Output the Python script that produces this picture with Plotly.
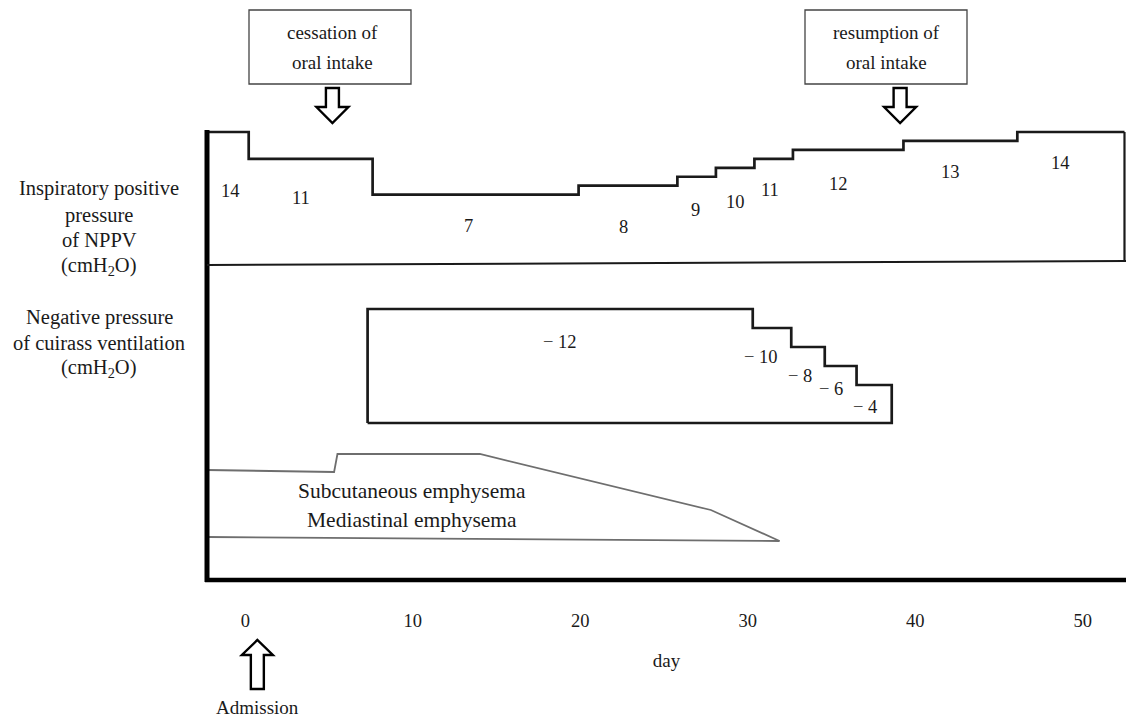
import plotly.graph_objects as go

W, H = 1126, 719

# ---------------- data ----------------
day_ticks = [0, 10, 20, 30, 40, 50]
day_tick_text = ["0", "10", "20", "30", "40", "50"]

# NPPV inspiratory positive pressure (cmH2O): level i holds from nppv_days[i] to nppv_days[i+1]
nppv_days = [-2.3, 0.2, 7.6, 19.9, 25.8, 28.1, 30.4, 32.7, 39.3, 46.1, 52.5]
nppv_levels = [14, 11, 7, 8, 9, 10, 11, 12, 13, 14]

# Cuirass negative pressure (cmH2O)
cuirass_days = [7.3, 30.3, 32.6, 34.6, 36.5, 38.6]
cuirass_levels = [-12, -10, -8, -6, -4]

# Emphysema course (qualitative band outline)
subcut_days = [-2.3, 5.3, 5.5, 14.0, 27.8, 31.9]
subcut_extent = [470, 472, 454, 454, 510, 541]
mediast_days = [-2.3, 31.9]
mediast_extent = [537, 541]

admission_day = 0
oral_stop_day = 5.2
oral_resume_day = 39.1

# ---------------- label placement ----------------
nppv_label_days = [-0.9, 3.3, 13.3, 22.6, 26.9, 29.3, 31.35, 35.4, 42.1, 48.65]
nppv_label_py = [191, 198, 226, 227, 210, 202, 190, 184, 172, 163]
cuirass_label_days = [18.8, 30.8, 33.1, 35.0, 37.0]
cuirass_label_py = [342, 357, 376, 389, 407]

FONT = "Liberation Serif"
INK = "#1a1a1a"

PLOT_L, PLOT_B = 207, 580
XR = [-2.29, 52.59]


def px(x):
    return x / W


def py(y):
    return 1 - y / H


def day_to_px(d):
    # only used to anchor decorative arrows on the data axis
    return PLOT_L + (d - XR[0]) / (XR[1] - XR[0]) * (W - PLOT_L)


fig = go.Figure()

# NPPV step outline
fig.add_trace(go.Scatter(
    x=nppv_days, y=nppv_levels + [nppv_levels[-1]], mode="lines",
    line=dict(color=INK, width=2.7, shape="hv"), yaxis="y2",
    hoverinfo="skip", showlegend=False))

# Cuirass closed outline (baseline 0)
cx = [cuirass_days[0]] + cuirass_days[:-1] + [cuirass_days[-1], cuirass_days[-1], cuirass_days[0]]
cy = [0] + cuirass_levels + [cuirass_levels[-1], 0, 0]
fig.add_trace(go.Scatter(
    x=cx, y=cy, mode="lines", line=dict(color=INK, width=2.7, shape="hv"),
    yaxis="y3", hoverinfo="skip", showlegend=False))

# Emphysema lines
fig.add_trace(go.Scatter(
    x=subcut_days, y=subcut_extent, mode="lines",
    line=dict(color="#6e6e6e", width=1.8), yaxis="y",
    hoverinfo="skip", showlegend=False))
fig.add_trace(go.Scatter(
    x=mediast_days, y=mediast_extent, mode="lines",
    line=dict(color="#6e6e6e", width=1.8), yaxis="y",
    hoverinfo="skip", showlegend=False))

shapes = []
# thick left axis and bottom axis
shapes.append(dict(type="line", xref="paper", yref="paper",
                   x0=px(PLOT_L), x1=px(PLOT_L), y0=py(130), y1=py(582),
                   line=dict(color="black", width=5)))
shapes.append(dict(type="line", xref="paper", yref="paper",
                   x0=px(PLOT_L - 2), x1=1, y0=py(580), y1=py(580),
                   line=dict(color="black", width=4.5)))
# NPPV panel bottom separator
shapes.append(dict(type="line", xref="paper", yref="paper",
                   x0=px(PLOT_L), x1=1, y0=py(265), y1=py(261),
                   line=dict(color=INK, width=2)))
# NPPV right edge
shapes.append(dict(type="line", xref="x", yref="y",
                   x0=nppv_days[-1], x1=nppv_days[-1], y0=132, y1=262,
                   line=dict(color=INK, width=2.2)))

# annotation boxes at top
for x0b, x1b in [(249, 411), (805, 967)]:
    shapes.append(dict(type="rect", xref="paper", yref="paper",
                       x0=px(x0b), x1=px(x1b), y0=py(10), y1=py(84),
                       line=dict(color="#444", width=1.3), fillcolor="white"))


def block_arrow(cxp, top, shoulder, tip, sh, hh):
    pts = [(cxp - sh, top), (cxp + sh, top), (cxp + sh, shoulder), (cxp + hh, shoulder),
           (cxp, tip), (cxp - hh, shoulder), (cxp - sh, shoulder)]
    return "M " + " L ".join(f"{px(a):.5f},{py(b):.5f}" for a, b in pts) + " Z"


for d in [oral_stop_day, oral_resume_day]:
    shapes.append(dict(type="path", xref="paper", yref="paper",
                       path=block_arrow(day_to_px(d), 88, 107, 123, 6.5, 16),
                       line=dict(color="black", width=2.4), fillcolor="white"))
# Admission up arrow
shapes.append(dict(type="path", xref="paper", yref="paper",
                   path=block_arrow(day_to_px(admission_day) + 12, 689, 655, 640, 6.5, 15.5),
                   line=dict(color="black", width=2.4), fillcolor="white"))

ann = []


def text(xp, yp, s, size=19):
    ann.append(dict(x=px(xp), y=py(yp), xref="paper", yref="paper", text=s,
                    showarrow=False, xanchor="center", yanchor="middle",
                    font=dict(family=FONT, size=size, color=INK)))


# box texts
text(333, 32, "cessation of", 19)
text(333, 63, "oral intake", 19)
text(886, 32, "resumption of", 19)
text(886, 63, "oral intake", 19)

# left labels
for yy, s in [(189, "Inspiratory positive"), (215, "pressure"), (240, "of NPPV"),
              (266, "(cmH<sub>2</sub>O)"), (317, "Negative pressure"),
              (343, "of cuirass ventilation"), (368, "(cmH<sub>2</sub>O)")]:
    text(99, yy, s, 20.5)

# emphysema labels
text(412, 491, "Subcutaneous emphysema", 21.5)
text(412, 520, "Mediastinal emphysema", 21.5)

# Admission label
text(day_to_px(admission_day) + 12, 707, "Admission", 19)

# NPPV level numbers
for d, yv, v in zip(nppv_label_days, nppv_label_py, nppv_levels):
    ann.append(dict(x=d, y=yv, xref="x", yref="y", text=str(v), showarrow=False,
                    font=dict(family=FONT, size=18.5, color=INK)))
# cuirass level numbers
for d, yv, v in zip(cuirass_label_days, cuirass_label_py, cuirass_levels):
    ann.append(dict(x=d, y=yv, xref="x", yref="y", text="\u2212 " + str(abs(v)),
                    showarrow=False, font=dict(family=FONT, size=18.5, color=INK)))

fig.update_layout(
    width=W, height=H, margin=dict(l=0, r=0, t=0, b=0),
    paper_bgcolor="white", plot_bgcolor="white",
    showlegend=False, shapes=shapes, annotations=ann,
    xaxis=dict(domain=[PLOT_L / W, 1], range=XR, tickvals=day_ticks, ticktext=day_tick_text,
               showgrid=False, zeroline=False, showline=False, ticks="",
               tickfont=dict(family=FONT, size=18.5, color=INK), ticklabelstandoff=27,
               title=dict(text="day", font=dict(family=FONT, size=19, color=INK), standoff=24),
               automargin=False, fixedrange=True),
    yaxis=dict(domain=[(H - PLOT_B) / H, 1], range=[PLOT_B, 0], visible=False, fixedrange=True),
    yaxis2=dict(domain=[(H - PLOT_B) / H, 1], range=[-36.06, 28.75], overlaying="y",
                visible=False, fixedrange=True),
    yaxis3=dict(domain=[(H - PLOT_B) / H, 1], range=[16.53, -44.53], overlaying="y",
                visible=False, fixedrange=True),
)

fig.write_html("out.html", config={"displayModeBar": False},
               post_script="document.body.style.margin='0';document.body.style.overflow='hidden';")
